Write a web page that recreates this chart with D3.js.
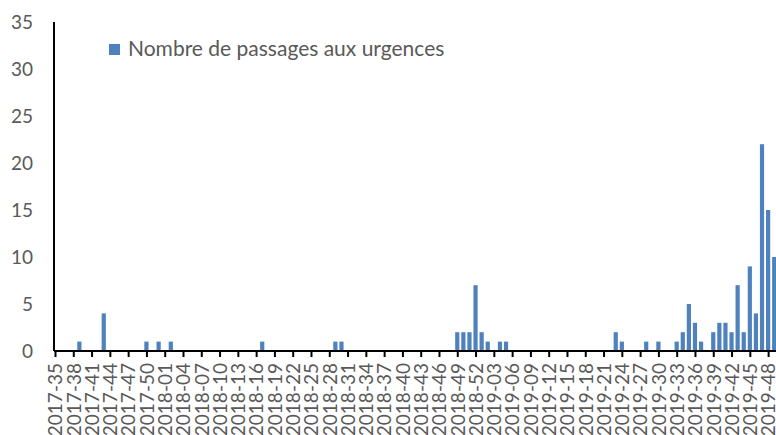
<!DOCTYPE html>
<html>
<head>
<meta charset="utf-8">
<script src="https://cdn.jsdelivr.net/npm/d3@7"></script>
<style>
  body { margin: 0; background: #fff; }
  svg { display: block; }
  text { font-family: Lato, "Open Sans", sans-serif; fill: #595959; }
</style>
</head>
<body>
<div id="chart"></div>
<script>
// weekly counts
var values2017 = [ // weeks 35..52
  0, 0, 0, 0, 1, 0, 0, 0, 4, 0, 0, 0, 0, 0, 0, 1, 0, 1];
var values2018 = [ // weeks 1..52
  0, 1, 0, 0, 0, 0, 0, 0, 0, 0, 0, 0, 0, 0, 0, 0, 1, 0, 0, 0,
  0, 0, 0, 0, 0, 0, 0, 0, 1, 1, 0, 0, 0, 0, 0, 0, 0, 0, 0, 0,
  0, 0, 0, 0, 0, 0, 0, 0, 2, 2, 2, 7];
var values2019 = [ // weeks 1..49
  2, 1, 0, 1, 1, 0, 0, 0, 0, 0, 0, 0, 0, 0, 0, 0, 0, 0, 0, 0,
  0, 0, 2, 1, 0, 0, 0, 1, 0, 1, 0, 0, 1, 2, 5, 3, 1, 0, 2, 3,
  3, 2, 7, 2, 9, 4, 22, 15, 10];
var yTicks = [0, 5, 10, 15, 20, 25, 30, 35];
var seriesName = "Nombre de passages aux urgences";

function weekLabels(year, from, n) {
  var out = [];
  for (var i = 0; i < n; i++) {
    var w = from + i;
    out.push(year + "-" + (w < 10 ? "0" + w : w));
  }
  return out;
}

var data = [];
[[2017, 35, values2017], [2018, 1, values2018], [2019, 1, values2019]].forEach(function(y) {
  var labels = weekLabels(y[0], y[1], y[2].length);
  labels.forEach(function(l, i) { data.push({week: l, value: y[2][i]}); });
});
var weeks = data.map(function(d) { return d.week; });

var width = 776, height = 435;
var step = 6.095;
var x0 = 55, yBase = 351, yTop = 22;

var svg = d3.select("#chart").append("svg")
  .attr("width", width).attr("height", height);

var x = d3.scalePoint()
  .domain(weeks)
  .range([x0, x0 + (weeks.length - 1) * step]);

var y = d3.scaleLinear()
  .domain([0, 35])
  .range([yBase, yTop]);

// bars
svg.selectAll(".bar")
  .data(data.filter(function(d) { return d.value > 0; }))
  .enter().append("rect")
  .attr("class", "bar")
  .attr("x", function(d) { return x(d.week) - 2.1; })
  .attr("width", 4.2)
  .attr("y", function(d) { return y(d.value); })
  .attr("height", function(d) { return yBase - y(d.value); })
  .style("fill", "#4f81bd");

// y axis
var yAxis = svg.append("g")
  .attr("transform", "translate(54,0)")
  .call(d3.axisLeft(y).tickValues(yTicks).tickSize(0).tickPadding(21));
yAxis.select(".domain").attr("d", "M0," + yTop + "V" + yBase)
  .attr("stroke", "#000").attr("stroke-width", 2);
yAxis.selectAll("text").style("font-size", "19px").attr("fill", "#595959");

// x axis
var xAxis = svg.append("g")
  .attr("transform", "translate(0," + yBase + ")")
  .call(d3.axisBottom(x)
    .tickValues(weeks.filter(function(d, i) { return i % 3 === 0; }))
    .tickSize(6).tickSizeOuter(0));
xAxis.select(".domain").attr("d", "M" + (x0 - 1) + ",0H" + width)
  .attr("stroke", "#000").attr("stroke-width", 2);
xAxis.selectAll(".tick line").attr("stroke", "#000").attr("stroke-width", 2);
xAxis.selectAll(".tick text")
  .style("font-size", "19px")
  .attr("fill", "#595959")
  .attr("text-anchor", "end")
  .attr("transform", "rotate(-90)")
  .attr("x", -12)
  .attr("y", 0)
  .attr("dy", "0.36em");

// legend
svg.append("rect")
  .attr("x", 109).attr("y", 44)
  .attr("width", 11).attr("height", 11)
  .style("fill", "#4f81bd");
svg.append("text")
  .attr("x", 128).attr("y", 55.5)
  .style("font-size", "21px")
  .text(seriesName);
</script>
</body>
</html>
